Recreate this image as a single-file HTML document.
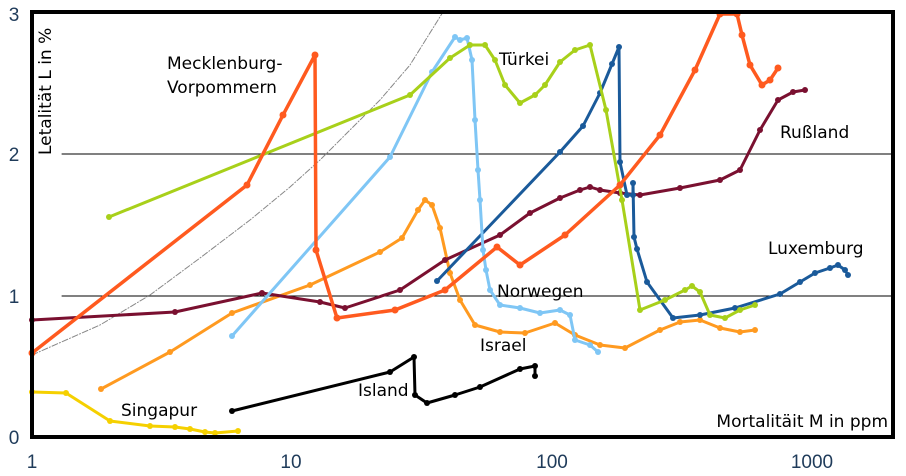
<!DOCTYPE html>
<html><head><meta charset="utf-8"><style>
body{margin:0;background:#fff}
svg{display:block;font-family:"DejaVu Sans","Liberation Sans",sans-serif}
</style></head><body>
<svg width="906" height="476" viewBox="0 0 906 476">
<defs>
<marker id="d" viewBox="0 0 10 10" refX="5" refY="5" markerWidth="2" markerHeight="2" markerUnits="strokeWidth"><circle cx="5" cy="5" r="5" fill="context-stroke"/></marker>
</defs>
<g fill="none" stroke-linejoin="round" stroke-linecap="round">
<line x1="62" y1="154" x2="893" y2="154" stroke="#000" stroke-width="1"/>
<line x1="62" y1="296" x2="893" y2="296" stroke="#000" stroke-width="1"/>
<polyline stroke="#888" stroke-width="1" stroke-dasharray="6,2,1,2" points="32,355 100,325 150,295 200,258 250,220 290,187 320,160 350,130 380,100 410,65 443,12"/>
</g>
<g fill="none" stroke-linejoin="round" stroke-linecap="round" marker-start="url(#d)" marker-mid="url(#d)" marker-end="url(#d)">
<polyline stroke="#f5d000" stroke-width="3" points="32,392 66,393 110,421 150,426 175,427 190,429 205,432 215,433 238,431"/>
<polyline stroke="#000" stroke-width="3" points="232,411 390,372 414,357 415,395 427,403 455,395 480,387 520,369 535,366 535,376"/>
<polyline stroke="#ff9a20" stroke-width="3" points="101,389 170,352 232,313 310,285 380,252 402,238 418,210 425,200 432,205 440,228 450,273 460,300 475,325 500,332 525,333 555,323 575,335 600,345 625,348 660,330 680,322 700,320 720,328 740,332 755,330"/>
<polyline stroke="#7a1030" stroke-width="3" points="32,320 175,312 262,293 320,302 345,308 400,290 445,260 500,235 530,213 560,198 580,190 590,187 600,190 620,193 640,195 680,188 720,180 740,170 760,130 778,100 793,92 805,90"/>
<polyline stroke="#1a5a9a" stroke-width="3" points="437,281 560,152 583,126 600,93 612,64 619,47 620,162 627,195 633,195 633,183 634,237 637,249 647,282 673,318 700,315 735,308 780,294 800,282 815,273 830,268 838,265 845,270 848,275"/>
<polyline stroke="#7fc6f5" stroke-width="3" points="232,336 390,157 432,72 455,37 460,40 467,38 472,60 475,120 478,170 480,200 483,250 486,270 490,290 500,305 520,308 540,313 560,310 570,315 575,340 590,345 598,352"/>
<polyline stroke="#a8d01a" stroke-width="3" points="109,217 410,95 450,58 470,45 485,45 495,60 505,85 520,103 535,95 545,85 560,62 575,50 590,45 606,110 622,200 640,310 665,300 685,290 692,286 700,292 710,315 725,318 740,310 755,305"/>
<polyline stroke="#ff5a1f" stroke-width="3.5" points="32,353 247,185 283,115 315,55 316,250 337,318 395,310 445,290 497,247 520,265 565,235 620,185 660,135 695,70 720,14 737,14 742,35 750,65 762,85 770,80 778,68"/>
</g>
<rect x="32" y="12" width="861" height="425" fill="none" stroke="#000" stroke-width="4"/>
<g font-size="17" fill="#000">
<text x="167" y="69">Mecklenburg-</text>
<text x="167" y="93">Vorpommern</text>
<text x="499" y="65">Türkei</text>
<text x="780" y="138">Rußland</text>
<text x="768" y="254">Luxemburg</text>
<text x="497" y="297">Norwegen</text>
<text x="480" y="351">Israel</text>
<text x="358" y="396">Island</text>
<text x="121" y="416">Singapur</text>
<text x="888" y="427" text-anchor="end">Mortalitäit M in ppm</text>
<text transform="translate(51,155) rotate(-90)">Letalität L in %</text>
</g>
<g font-size="19" fill="#1f3b5a" font-family="Liberation Sans,sans-serif">
<text x="14" y="21" text-anchor="middle">3</text>
<text x="14" y="161" text-anchor="middle">2</text>
<text x="14" y="303" text-anchor="middle">1</text>
<text x="14" y="444" text-anchor="middle">0</text>
<text x="32" y="468" text-anchor="middle">1</text>
<text x="291" y="468" text-anchor="middle">10</text>
<text x="552" y="468" text-anchor="middle">100</text>
<text x="812" y="468" text-anchor="middle">1000</text>
</g>
</svg>
</body></html>
